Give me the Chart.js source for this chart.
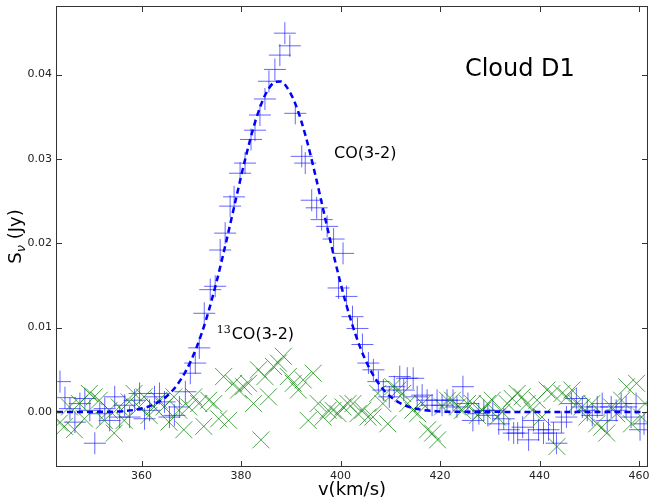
<!DOCTYPE html>
<html>
<head>
<meta charset="utf-8">
<script src="https://cdn.jsdelivr.net/npm/chart.js@4.4.1/dist/chart.umd.min.js"></script>
<style>
  html, body { margin: 0; padding: 0; background: #fff; }
  #wrap { width: 649px; height: 502px; }
</style>
</head>
<body>
<div id="wrap"><canvas id="chart" width="649" height="502"></canvas></div>
<script>
// -- Data --
// CO(3-2) channels, blue "+"
const CO_V = [343.6, 344.6, 345.6, 346.6, 347.6, 348.6, 349.6, 350.6, 351.6, 352.6,
    353.6, 354.6, 355.6, 356.6, 357.6, 358.6, 359.6, 360.6, 361.6, 362.6,
    363.6, 364.6, 365.6, 366.6, 367.6, 368.8, 369.8, 370.8, 371.6, 372.6,
    373.8, 374.8, 375.8, 376.8, 377.8, 378.6, 379.8, 380.8, 382.0, 382.8,
    383.8, 384.8, 385.6, 386.8, 387.8, 388.8, 389.8, 390.9, 392.2, 392.9,
    394.2, 395.2, 396.2, 397.3, 398.6, 399.6, 400.5, 401.2, 402.4, 403.4,
    404.4, 405.6, 406.6, 407.6, 408.6, 409.8, 410.8, 411.9, 412.7, 413.4,
    414.6, 415.4, 416.4, 417.4, 418.4, 419.4, 420.4, 421.4, 422.6, 423.4,
    424.6, 425.6, 426.6, 427.8, 428.8, 429.6, 430.6, 431.8, 432.8, 433.8,
    434.8, 435.6, 436.6, 437.8, 438.8, 439.8, 440.8, 441.8, 442.8, 443.4,
    444.4, 445.4, 446.4, 447.4, 448.6, 449.6, 450.6, 451.6, 452.6, 453.6,
    454.4, 455.4, 456.4, 457.4, 458.4, 459.4, 460.2, 461.0];
const CO_S = [0.0036, 0.0017, 0.0004, -0.0012, 0.0010, 0.0016, 0.0002, -0.0037, -0.0002, 0.0004,
    -0.0010, 0.0018, -0.0006, 0.0008, -0.0006, 0.0014, 0.0022, -0.0008, 0.0002, 0.0018,
    0.0022, 0.0012, -0.0006, -0.0004, 0.0006, 0.0024, 0.0046, 0.0058, 0.0076, 0.0117,
    0.0145, 0.0149, 0.0192, 0.0212, 0.0244, 0.0255, 0.0283, 0.0295, 0.0323, 0.0334,
    0.0352, 0.0371, 0.0392, 0.0406, 0.0423, 0.0449, 0.0434, 0.0354, 0.0303, 0.0295,
    0.0251, 0.0242, 0.0228, 0.0220, 0.0205, 0.0147, 0.0188, 0.0137, 0.0113, 0.0099,
    0.0080, 0.0058, 0.0050, 0.0036, 0.0026, 0.0018, 0.0030, 0.0042, 0.0026, 0.0040,
    0.0040, 0.0018, 0.0020, 0.0014, 0.0008, 0.0014, 0.0008, 0.0014, 0.0014, 0.0006,
    0.0030, 0.0010, -0.0010, -0.0002, 0.0002, -0.0004, 0.0002, -0.0014, -0.0008, -0.0021,
    -0.0025, -0.0025, -0.0018, -0.0033, -0.0010, -0.0021, -0.0025, -0.0021, -0.0025, -0.0037,
    -0.0012, -0.0006, 0.0010, 0.0016, 0.0006, 0.0002, -0.0004, 0.0006, 0.0010, -0.0010,
    0.0006, 0.0002, 0.0010, 0.0006, -0.0006, 0.0010, -0.0021, -0.0014];

// 13CO(3-2) channels, green "x"
const C13_V = [343.5, 344.5, 345.5, 346.5, 347.5, 348.5, 349.5, 350.5, 351.5, 352.5,
    353.5, 354.5, 355.5, 356.5, 357.5, 358.5, 359.5, 360.5, 361.5, 362.5,
    363.5, 364.5, 365.5, 366.5, 367.5, 368.5, 369.5, 370.5, 371.5, 372.5,
    373.5, 374.5, 375.5, 376.5, 377.5, 378.5, 379.5, 380.5, 381.5, 382.5,
    383.5, 384.0, 384.8, 385.5, 386.5, 387.5, 388.5, 389.5, 390.5, 391.5,
    392.5, 393.5, 394.5, 395.5, 396.5, 397.5, 398.5, 399.5, 400.5, 401.5,
    402.5, 403.5, 404.5, 405.5, 406.5, 407.5, 408.5, 409.5, 410.5, 411.5,
    412.5, 413.5, 414.5, 415.5, 416.5, 417.5, 418.5, 419.5, 420.5, 421.5,
    422.5, 423.5, 424.5, 425.5, 426.5, 427.5, 428.5, 429.5, 430.5, 431.5,
    432.5, 433.5, 434.5, 435.5, 436.5, 437.5, 438.5, 439.5, 440.5, 441.5,
    442.5, 443.5, 444.5, 445.5, 446.5, 447.5, 448.5, 449.5, 450.5, 451.5,
    452.5, 453.5, 454.5, 455.5, 456.5, 457.5, 458.5, 459.5, 460.5, 461.2];
const C13_S = [-0.0013, -0.0017, 0.0006, -0.0021, 0.0010, -0.0008, 0.0022, 0.0018, 0.0014, -0.0010,
    0.0002, -0.0025, 0.0006, -0.0010, 0.0012, 0.0022, 0.0006, 0.0018, -0.0004, 0.0006,
    0.0014, 0.0006, -0.0012, 0.0018, 0.0002, -0.0021, 0.0006, 0.0018, 0.0010, -0.0017,
    0.0014, 0.0010, -0.0008, 0.0042, -0.0010, 0.0034, 0.0026, 0.0030, 0.0034, 0.0010,
    0.0050, -0.0033, 0.0042, 0.0018, 0.0054, 0.0058, 0.0066, 0.0042, 0.0034, 0.0026,
    0.0038, -0.0010, 0.0046, 0.0010, -0.0006, 0.0002, 0.0002, -0.0002, 0.0006, 0.0010,
    0.0010, -0.0002, 0.0002, -0.0006, -0.0006, 0.0022, 0.0010, -0.0014, 0.0030, 0.0026,
    0.0022, 0.0010, 0.0002, -0.0002, 0.0010, -0.0021, -0.0025, -0.0033, 0.0006, 0.0014,
    0.0014, 0.0006, 0.0002, 0.0010, 0.0010, -0.0004, 0.0002, 0.0010, 0.0014, -0.0006,
    0.0000, 0.0010, 0.0016, 0.0022, 0.0018, 0.0010, 0.0002, 0.0014, -0.0006, 0.0026,
    0.0022, -0.0041, 0.0022, 0.0018, 0.0026, 0.0010, 0.0006, -0.0006, 0.0010, -0.0014,
    -0.0018, -0.0025, 0.0006, -0.0002, 0.0014, 0.0030, -0.0014, 0.0034, -0.0006, 0.0010];

// fitted CO profile, dashed line
const FIT_V = [343, 353, 355, 357, 359, 361, 363, 365, 367, 369, 371, 373, 375, 377, 379,
    381, 383, 385, 387, 388, 389, 391, 393, 395, 397, 399, 401, 403, 405, 407, 409,
    411, 413, 415, 417, 419, 421, 461];
const FIT_S = [0, 0.00003, 0.00006, 0.00014, 0.00029, 0.00056, 0.00105, 0.00184, 0.0031,
    0.00496, 0.00757, 0.0110, 0.01527, 0.02015, 0.02534, 0.03037, 0.03469, 0.03775,
    0.03914, 0.03917, 0.03867, 0.0364, 0.03266, 0.02791, 0.02273, 0.01764, 0.01304,
    0.00919, 0.00617, 0.00395, 0.0024, 0.0014, 0.00077, 0.00041, 0.0002, 0.0001,
    0.00004, 0];

const X_TICKS = [360, 380, 400, 420, 440, 460];
const Y_TICKS = [0.00, 0.01, 0.02, 0.03, 0.04];

// -- Helpers --
const toPoints = (xs, ys) => xs.map((x, i) => ({ x: x, y: ys[i] }));
const FONT = '"DejaVu Sans", "Liberation Sans", sans-serif';

// frame + inward ticks on all four sides (matplotlib classic look)
const framePlugin = {
    id: 'frame',
    afterDatasetsDraw(chart) {
        const ctx = chart.ctx;
        const { left, right, top, bottom } = chart.chartArea;
        const xs = chart.scales.x, ys = chart.scales.y;
        const len = 5;
        ctx.save();
        ctx.strokeStyle = '#333';
        ctx.lineWidth = 1;
        ctx.beginPath();
        X_TICKS.forEach(v => {
            const px = Math.round(xs.getPixelForValue(v)) + 0.5;
            ctx.moveTo(px, bottom); ctx.lineTo(px, bottom - len);
            ctx.moveTo(px, top); ctx.lineTo(px, top + len);
        });
        Y_TICKS.forEach(v => {
            const py = Math.round(ys.getPixelForValue(v)) + 0.5;
            ctx.moveTo(left, py); ctx.lineTo(left + len, py);
            ctx.moveTo(right, py); ctx.lineTo(right - len, py);
        });
        ctx.stroke();
        ctx.strokeRect(left - 0.5, top - 0.5, right - left + 1, bottom - top + 1);
        ctx.restore();
    }
};

// axis titles and in-plot labels
const textPlugin = {
    id: 'texts',
    afterDraw(chart) {
        const ctx = chart.ctx;
        const { left, right, top, bottom } = chart.chartArea;
        const xs = chart.scales.x, ys = chart.scales.y;
        ctx.save();
        ctx.fillStyle = '#000';
        ctx.textBaseline = 'alphabetic';

        // x title
        ctx.font = '18px ' + FONT;
        ctx.textAlign = 'center';
        ctx.fillText('v(km/s)', (left + right) / 2, 495);

        // y title with subscript nu
        ctx.save();
        ctx.translate(21, (top + bottom) / 2);
        ctx.rotate(-Math.PI / 2);
        ctx.textAlign = 'left';
        ctx.font = '18px ' + FONT;
        const wS = ctx.measureText('S').width;
        const wRest = ctx.measureText(' (Jy)').width;
        ctx.font = 'italic 13px ' + FONT;
        const wNu = ctx.measureText('ν').width;
        let x0 = -(wS + wNu + wRest) / 2;
        ctx.font = '18px ' + FONT;
        ctx.fillText('S', x0, 0);
        ctx.font = 'italic 13px ' + FONT;
        ctx.fillText('ν', x0 + wS, 4);
        ctx.font = '18px ' + FONT;
        ctx.fillText(' (Jy)', x0 + wS + wNu, 0);
        ctx.restore();

        // labels inside the plot, placed in data coordinates
        ctx.textAlign = 'left';
        ctx.font = '24px ' + FONT;
        ctx.fillText('Cloud D1', xs.getPixelForValue(425.0), ys.getPixelForValue(0.0398));

        ctx.font = '16px ' + FONT;
        ctx.fillText('CO(3-2)', xs.getPixelForValue(398.7), ys.getPixelForValue(0.0301));

        const x13 = xs.getPixelForValue(375.1);
        const y13 = ys.getPixelForValue(0.0087);
        ctx.font = '11px "DejaVu Serif", serif';
        ctx.fillText('13', x13, y13 - 6);
        const w13 = ctx.measureText('13').width;
        ctx.font = '16px ' + FONT;
        ctx.fillText('CO(3-2)', x13 + w13 + 1, y13);
        ctx.restore();
    }
};

// no extra room for overhanging tick labels: the frame fills the canvas like the original
const noOverhang = s => {
    s.paddingLeft = 0; s.paddingRight = 0;
    s.paddingTop = 0; s.paddingBottom = 0;
};

// -- Chart --
const ctx = document.getElementById('chart').getContext('2d');
new Chart(ctx, {
    type: 'scatter',
    data: {
        datasets: [
            {
                label: 'fit',
                data: toPoints(FIT_V, FIT_S),
                showLine: true,
                borderColor: '#0000ff',
                borderWidth: 2.5,
                borderDash: [6, 4],
                pointRadius: 0,
                cubicInterpolationMode: 'monotone',
                fill: false,
                order: 0
            },
            {
                label: '13CO(3-2)',
                data: toPoints(C13_V, C13_S),
                pointStyle: 'crossRot',
                pointRadius: 12,
                borderColor: 'rgba(0, 128, 0, 0.7)',
                borderWidth: 1,
                order: 1
            },
            {
                label: 'CO(3-2)',
                data: toPoints(CO_V, CO_S),
                pointStyle: 'cross',
                pointRadius: 11,
                borderColor: 'rgba(0, 0, 255, 0.6)',
                borderWidth: 1,
                order: 2
            }
        ]
    },
    options: {
        responsive: false,
        devicePixelRatio: 1,
        animation: false,
        layout: { autoPadding: false, padding: { top: 7, right: 2, bottom: 0, left: 0 } },
        plugins: {
            legend: { display: false },
            tooltip: { enabled: false }
        },
        scales: {
            x: {
                type: 'linear',
                min: 343,
                max: 461.6,
                grid: { display: false, drawTicks: false },
                border: { display: false },
                afterBuildTicks: s => { s.ticks = X_TICKS.map(v => ({ value: v })); },
                afterFit: s => { s.height = 36; noOverhang(s); },
                ticks: {
                    padding: 4,
                    maxRotation: 0,
                    autoSkip: false,
                    color: '#222',
                    font: { family: FONT, size: 11 },
                    callback: v => String(v)
                }
            },
            y: {
                type: 'linear',
                min: -0.0064,
                max: 0.048,
                grid: { display: false, drawTicks: false },
                border: { display: false },
                afterBuildTicks: s => { s.ticks = Y_TICKS.map(v => ({ value: v })); },
                afterFit: s => { s.width = 57; noOverhang(s); },
                ticks: {
                    padding: 5,
                    color: '#222',
                    font: { family: FONT, size: 11 },
                    callback: v => Math.abs(v) < 1e-9 ? '0.00' : v.toFixed(2)
                }
            }
        }
    },
    plugins: [framePlugin, textPlugin]
});
</script>
</body>
</html>
